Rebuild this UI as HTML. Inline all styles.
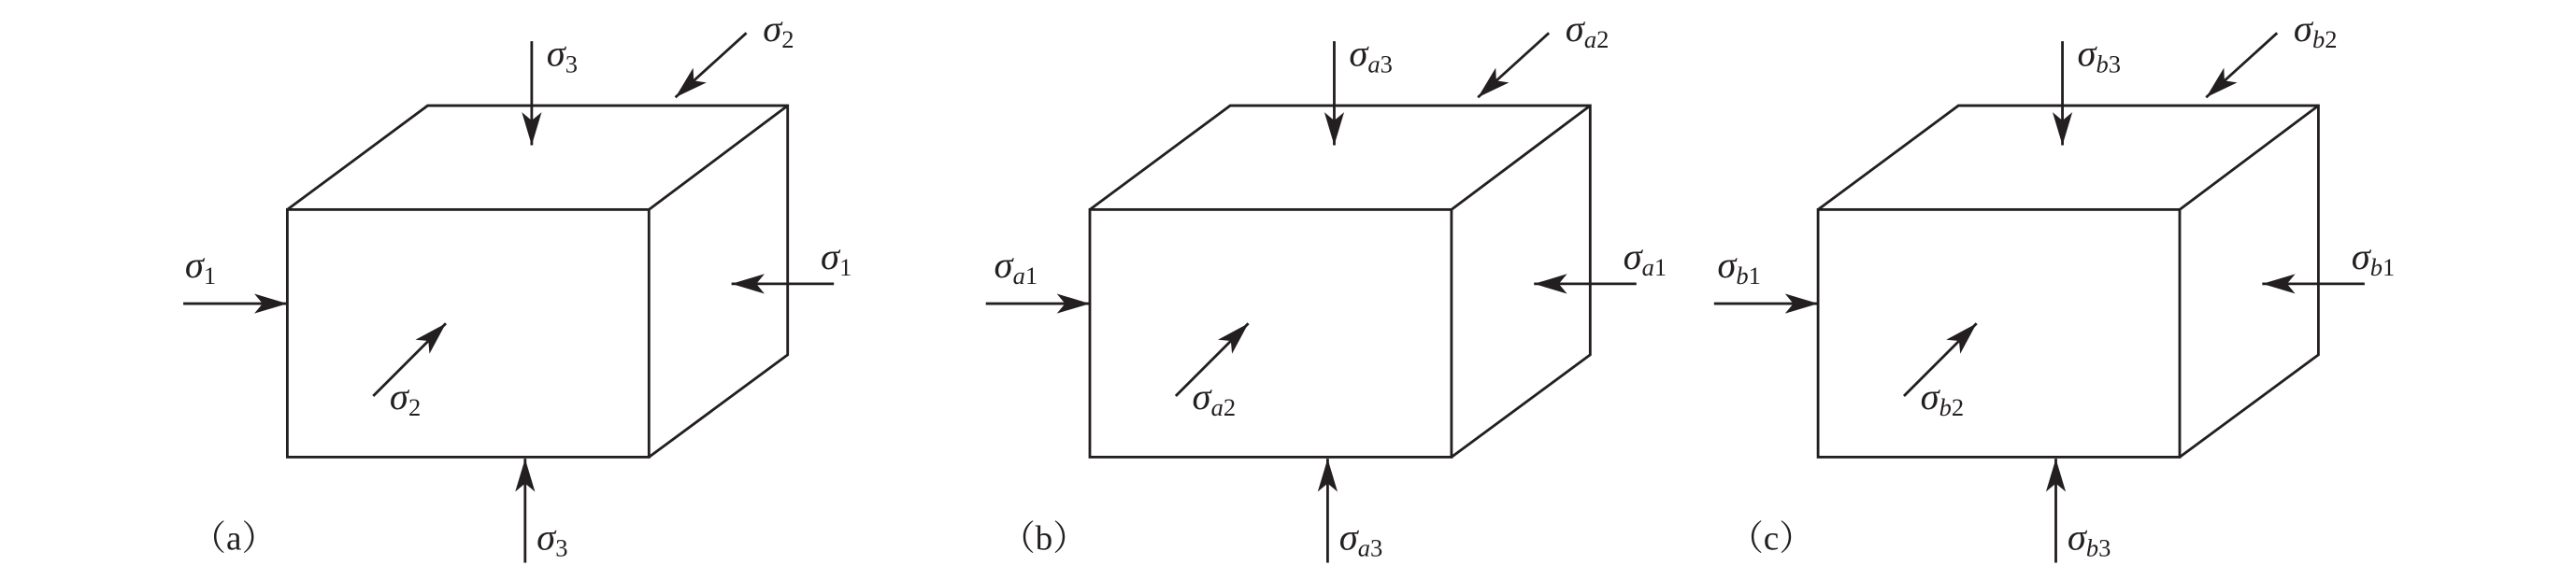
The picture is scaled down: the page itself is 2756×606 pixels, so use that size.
<!DOCTYPE html>
<html><head><meta charset="utf-8"><style>
html,body{margin:0;padding:0;background:#fff;}
svg{display:block;}
text{font-family:"Liberation Serif","Noto Serif CJK SC",serif;fill:#231f20;}
.s{font-style:italic;font-size:23px;}
.sub{font-size:15px;}
.i{font-style:italic;}
.n{font-style:normal;}
</style></head><body>
<svg width="2756" height="606" viewBox="0 0 1560 343" preserveAspectRatio="none" xmlns="http://www.w3.org/2000/svg">
<defs>
<marker id="ah2" viewBox="0 0 20 12" refX="20" refY="6" markerWidth="20" markerHeight="13" markerUnits="userSpaceOnUse" orient="auto">
<path d="M0,0 L20,6 L0,12 L5,6 Z" fill="#231f20"/>
</marker>
<g id="cube" fill="none" stroke="#231f20" stroke-width="1.6" stroke-linejoin="miter">
<rect x="174" y="127" width="219" height="150"/>
<path d="M174,127 L259,64 L477,64 L477,215 L393,277 M393,127 L477,64"/>
</g>
<g id="arrows" stroke="#231f20" stroke-width="1.6" fill="none">
<line x1="322" y1="25" x2="322" y2="88" marker-end="url(#ah2)"/>
<line x1="452" y1="20" x2="409" y2="59" marker-end="url(#ah2)"/>
<line x1="111" y1="184" x2="174" y2="184" marker-end="url(#ah2)"/>
<line x1="505" y1="172" x2="443" y2="172" marker-end="url(#ah2)"/>
<line x1="226" y1="240" x2="270" y2="196" marker-end="url(#ah2)"/>
<line x1="318" y1="341" x2="318" y2="278" marker-end="url(#ah2)"/>
</g>
</defs>

<!-- (a) -->
<use href="#cube"/><use href="#arrows"/>
<text class="s" x="331" y="40">σ<tspan class="sub n" dy="4">3</tspan></text>
<text class="s" x="462" y="25">σ<tspan class="sub n" dy="4">2</tspan></text>
<text class="s" x="112" y="168">σ<tspan class="sub n" dy="4">1</tspan></text>
<text class="s" x="497" y="163">σ<tspan class="sub n" dy="4">1</tspan></text>
<text class="s" x="236" y="248">σ<tspan class="sub n" dy="4">2</tspan></text>
<text class="s" x="325" y="333">σ<tspan class="sub n" dy="4">3</tspan></text>
<text x="116" y="333" font-size="21">（a）</text>

<!-- (b) -->
<g transform="translate(486,0)">
<use href="#cube"/><use href="#arrows"/>
<text class="s" x="331" y="40">σ<tspan class="sub" dy="4">a</tspan><tspan class="sub n">3</tspan></text>
<text class="s" x="462" y="25">σ<tspan class="sub" dy="4">a</tspan><tspan class="sub n">2</tspan></text>
<text class="s" x="116" y="168">σ<tspan class="sub" dy="4">a</tspan><tspan class="sub n">1</tspan></text>
<text class="s" x="497" y="163">σ<tspan class="sub" dy="4">a</tspan><tspan class="sub n">1</tspan></text>
<text class="s" x="236" y="248">σ<tspan class="sub" dy="4">a</tspan><tspan class="sub n">2</tspan></text>
<text class="s" x="325" y="333">σ<tspan class="sub" dy="4">a</tspan><tspan class="sub n">3</tspan></text>
<text x="120" y="333" font-size="21">（b）</text>
</g>

<!-- (c) -->
<g transform="translate(927,0)">
<use href="#cube"/><use href="#arrows"/>
<text class="s" x="331" y="40">σ<tspan class="sub" dy="4">b</tspan><tspan class="sub n">3</tspan></text>
<text class="s" x="462" y="25">σ<tspan class="sub" dy="4">b</tspan><tspan class="sub n">2</tspan></text>
<text class="s" x="113" y="168">σ<tspan class="sub" dy="4">b</tspan><tspan class="sub n">1</tspan></text>
<text class="s" x="497" y="163">σ<tspan class="sub" dy="4">b</tspan><tspan class="sub n">1</tspan></text>
<text class="s" x="236" y="248">σ<tspan class="sub" dy="4">b</tspan><tspan class="sub n">2</tspan></text>
<text class="s" x="325" y="333">σ<tspan class="sub" dy="4">b</tspan><tspan class="sub n">3</tspan></text>
<text x="120" y="333" font-size="21">（c）</text>
</g>
</svg>
</body></html>
